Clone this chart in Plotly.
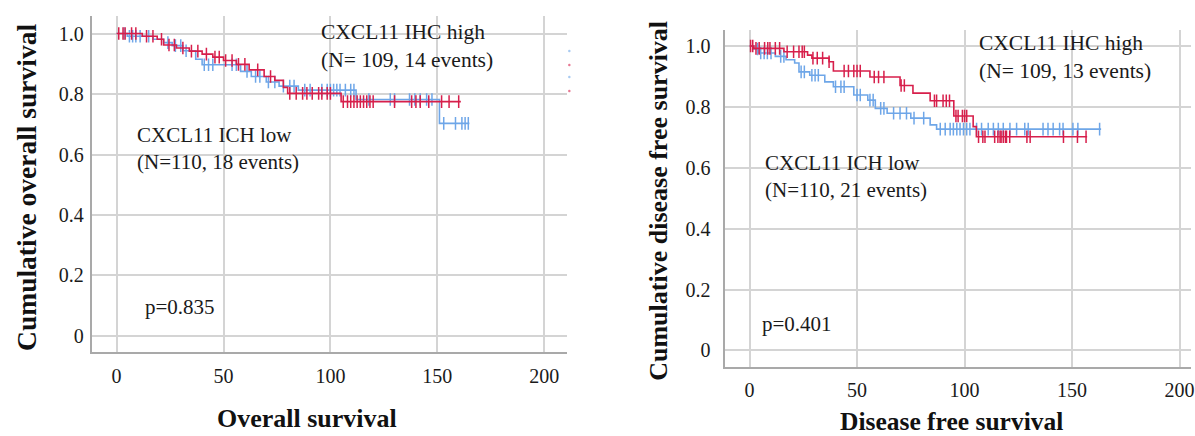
import numpy as np
import plotly.graph_objects as go

# ---------------- DATA ----------------
# Overall survival (left panel)
os_high_t = [0, 12, 19, 22, 28, 34, 40, 45, 50, 56, 62, 69, 74, 78, 80, 105]
os_high_s = [1.0, 0.991, 0.981, 0.962, 0.952, 0.942, 0.932, 0.922, 0.911, 0.898, 0.880, 0.858, 0.845, 0.822, 0.802, 0.775]
os_high_end = 161
os_high_cens = [1, 3, 4, 7, 9, 14, 17, 21, 24.5, 27, 31, 35, 38, 42, 46, 48, 51, 54, 57, 60, 66, 72,
                81, 84, 87, 89, 91.5, 94.5, 96, 98.5, 100, 106, 108, 109.5, 111, 112.5, 114, 115.5,
                117, 118.5, 120, 130, 138, 140, 142, 146, 152, 155.5, 160]

os_low_t = [0, 5, 17, 22, 26, 31, 37, 40, 58, 63, 70, 76, 85, 112, 151]
os_low_s = [1.0, 0.991, 0.981, 0.970, 0.960, 0.943, 0.915, 0.897, 0.875, 0.858, 0.840, 0.826, 0.813, 0.782, 0.703]
os_low_end = 165
os_low_cens = [3.5, 6, 7.5, 9, 11, 15, 24, 27.5, 30, 32.5, 41, 43, 45, 54, 56, 61, 65, 67, 71, 74, 78,
               81, 83, 88, 90.5, 96, 98.5, 100, 101.5, 103, 104.5, 107, 109.5, 111, 118, 128, 130,
               137, 139.5, 142, 145, 147.5, 153, 158.5, 161.5, 163, 164.5]

# Disease free survival (right panel)
dfs_high_t = [0, 2, 16, 27, 29, 37, 39, 56, 70, 76, 84, 95, 104, 105.5]
dfs_high_s = [1.0, 0.992, 0.981, 0.970, 0.960, 0.948, 0.918, 0.898, 0.870, 0.845, 0.820, 0.770, 0.735, 0.702]
dfs_high_end = 157
dfs_high_cens = [0.5, 1.5, 3, 4.5, 7, 8.5, 9.5, 12, 14, 17.5, 20.5, 23, 24.5, 25.5, 29.5, 31.5, 34, 37,
                 44, 46, 48.5, 50, 51.5, 58, 60, 62.5, 70.5, 72, 86, 87, 90, 91.5, 93, 96, 97, 99,
                 100, 101, 106.5, 108.5, 109.5, 114, 115.5, 116.5, 117, 118, 119, 119.5, 121, 129,
                 130.5, 146, 152.5, 156.5]

dfs_low_t = [0, 2, 4, 12, 17, 21, 23, 28, 35, 39, 48.5, 55, 58.5, 64, 75, 84, 87]
dfs_low_s = [1.0, 0.990, 0.977, 0.966, 0.955, 0.944, 0.915, 0.904, 0.882, 0.866, 0.839, 0.822, 0.795,
             0.779, 0.763, 0.741, 0.727]
dfs_low_end = 163.5
dfs_low_cens = [3.7, 5.2, 6.8, 8.3, 10, 14.5, 16, 24, 25.5, 29, 30.5, 32, 40, 42.5, 44, 50, 51.5, 56,
                57.5, 61, 62.5, 67, 70, 73, 76.5, 81, 88.7, 91, 93.3, 94.8, 96.4, 97.9, 99.5, 101,
                102.5, 105.6, 107.9, 111, 113.4, 115.7, 118, 121.1, 124.2, 128, 129.6, 136.5, 138.8,
                141.2, 144.2, 145.8, 150.4, 152.7, 162.8]

x_ticks = [0, 50, 100, 150, 200]
y_ticks = [0, 0.2, 0.4, 0.6, 0.8, 1.0]
y_tick_text = ["0", "0.2", "0.4", "0.6", "0.8", "1.0"]

# ---------------- STYLE ----------------
RED = "#d71f4b"
BLUE = "#6ea6e8"
GRID = "#d4d4d4"
AXIS = "#a9a9a9"
SERIF = "Liberation Serif"
W, H = 1195, 436


def px(x):
    return x / W


def py(y):
    return 1 - y / H


fig = go.Figure()


def add_km(t, s, end, cens, color, xa, ya):
    t = np.asarray(t, float)
    s = np.asarray(s, float)
    xs = np.append(t, end)
    ys = np.append(s, s[-1])
    fig.add_trace(go.Scatter(x=xs, y=ys, mode="lines", line=dict(color=color, width=1.6, shape="hv"),
                             xaxis=xa, yaxis=ya, showlegend=False, hoverinfo="skip"))
    c = np.asarray(cens, float)
    idx = np.searchsorted(t, c, side="right") - 1
    fig.add_trace(go.Scatter(x=c, y=s[idx], mode="markers",
                             marker=dict(symbol="line-ns-open", size=9, color=color,
                                         line=dict(color=color, width=1.5)),
                             xaxis=xa, yaxis=ya, showlegend=False, hoverinfo="skip"))


add_km(os_low_t, os_low_s, os_low_end, os_low_cens, BLUE, "x", "y")
add_km(os_high_t, os_high_s, os_high_end, os_high_cens, RED, "x", "y")
add_km(dfs_low_t, dfs_low_s, dfs_low_end, dfs_low_cens, BLUE, "x2", "y2")
add_km(dfs_high_t, dfs_high_s, dfs_high_end, dfs_high_cens, RED, "x2", "y2")

axis_common = dict(showgrid=True, gridcolor=GRID, gridwidth=1.5, showline=True, linecolor=AXIS,
                   linewidth=2, zeroline=False, ticks="", tickfont=dict(family=SERIF, size=20, color="#1a1a1a"),
                   fixedrange=True, ticklabeloverflow="allow")

fig.update_layout(
    width=W, height=H, margin=dict(l=0, r=0, t=0, b=0),
    paper_bgcolor="white", plot_bgcolor="white",
    xaxis=dict(domain=[px(92), px(569)], range=[-11.65, 210.7], tickvals=x_ticks, anchor="y",
               ticklabelstandoff=5, **axis_common),
    yaxis=dict(domain=[py(352), py(16)], range=[-0.053, 1.058], tickvals=y_ticks, ticktext=y_tick_text,
               anchor="x", ticklabelstandoff=2, **axis_common),
    xaxis2=dict(domain=[px(727), 1.0], range=[-11.6, 205.3], tickvals=x_ticks, anchor="y2",
                ticklabelstandoff=4, **axis_common),
    yaxis2=dict(domain=[py(367), py(30)], range=[-0.0545, 1.0525], tickvals=y_ticks, ticktext=y_tick_text,
                anchor="x2", ticklabelstandoff=8, **axis_common),
)

# white boxes behind the text (cover grid lines, below the curves)
boxes = [
    (296, 17, 542, 80), (115, 105, 350, 152), (115, 152, 328, 190), (120, 292, 226, 327),
    (957, 31, 1181, 97), (738, 128, 961, 207),
]
for x0, y0, x1, y1 in boxes:
    fig.add_shape(type="rect", xref="paper", yref="paper", x0=px(x0), x1=px(x1), y0=py(y1), y1=py(y0),
                  fillcolor="white", line=dict(width=0), layer="between")

# tiny leftover legend marks at the right edge of the left panel
for yy, col in [(51, BLUE), (65, RED), (77, BLUE), (91, RED)]:
    fig.add_shape(type="circle", xref="paper", yref="paper", x0=px(570), x1=px(572.5),
                  y0=py(yy + 1.2), y1=py(yy - 1.2), fillcolor=col, line=dict(width=0), opacity=0.6)

TXT = dict(family=SERIF, size=21, color="#1a1a1a")


def ann(text, x, y, xanchor="left", yanchor="top", font=TXT, angle=0):
    fig.add_annotation(text=text, xref="paper", yref="paper", x=px(x), y=py(y), xanchor=xanchor,
                       yanchor=yanchor, showarrow=False, font=font, align="left", textangle=angle)


ann("CXCL11 IHC high<br>(N= 109, 14 events)", 320, 18, font=dict(family=SERIF, size=21.5, color="#1a1a1a"))
ann("CXCL11 ICH low<br>(N=110, 18 events)", 135, 121)
ann("p=0.835", 143, 307, yanchor="middle")
ann("CXCL11 IHC high<br>(N= 109, 13 events)", 980, 29, font=dict(family=SERIF, size=21.5, color="#1a1a1a"))
ann("CXCL11 ICH low<br>(N=110, 21 events)", 766, 149)
ann("p=0.401", 763, 324, yanchor="middle")

ann("<b>Overall survival</b>", 308, 418, xanchor="center", yanchor="middle",
    font=dict(family=SERIF, size=26, color="#111111"))
ann("<b>Disease free survival</b>", 955, 421, xanchor="center", yanchor="middle",
    font=dict(family=SERIF, size=25.5, color="#111111"))
ann("<b>Cumulative overall survival</b>", 27, 187, xanchor="center", yanchor="middle",
    font=dict(family=SERIF, size=27.5, color="#111111"), angle=-90)
ann("<b>Cumulative disease free survival</b>", 660, 201, xanchor="center", yanchor="middle",
    font=dict(family=SERIF, size=26, color="#111111"), angle=-90)

fig.write_html("out.html", config={"displayModeBar": False},
               post_script="document.body.style.margin='0';document.body.style.overflow='hidden';")
